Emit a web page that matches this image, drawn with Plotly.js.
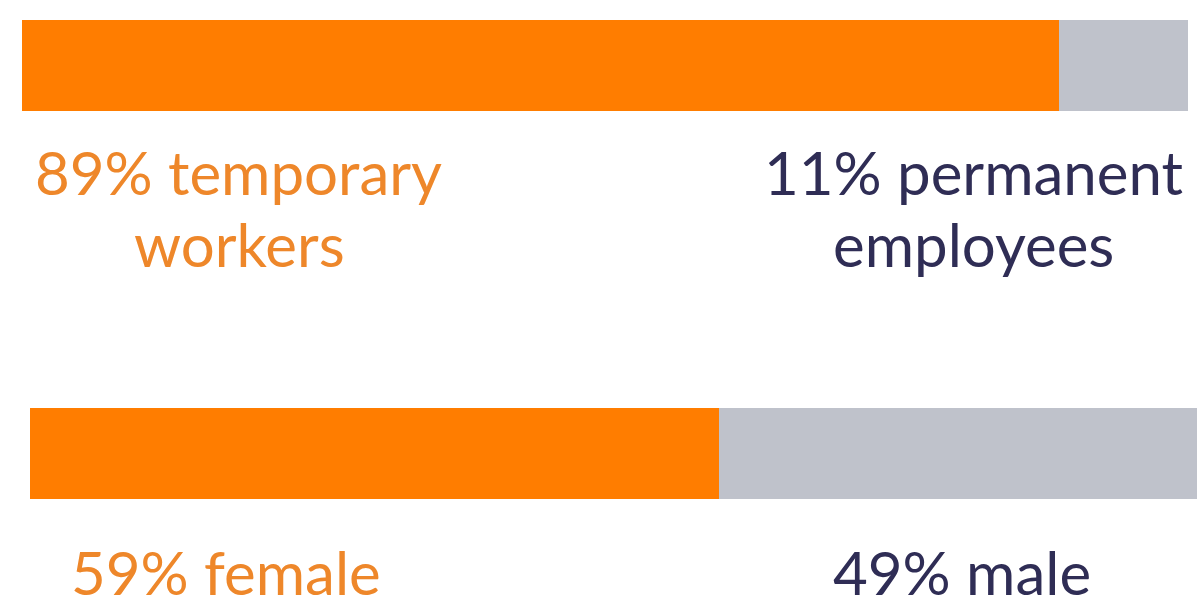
<!DOCTYPE html>
<html>
<head>
<meta charset="utf-8">
<script src="https://cdn.plot.ly/plotly-3.0.1.min.js"></script>
<style>html,body{margin:0;padding:0;background:#fff;}#chart{width:1197px;height:604px;}</style>
</head>
<body>
<div id="chart"></div>
<script>
// Data
const rows = ['contract', 'gender'];
const orangeValues = [89, 59];
const grayValues = [11, 41];
const orangeLabels = ['89% temporary', 'workers', '59% female'];
const grayLabels = ['11% permanent', 'employees', '49% male'];

const W = 1197, H = 604;
const px = v => v / W;
const py = v => 1 - v / H;

const ORANGE = '#FF7D00';
const GRAY = '#BFC2CB';
const TXT_OR = '#EE872A';
const TXT_DARK = '#2F2D55';

const traces = [];
rows.forEach((r, i) => {
  const xa = i === 0 ? 'x' : 'x2';
  const ya = i === 0 ? 'y' : 'y2';
  traces.push({type: 'bar', orientation: 'h', y: [r], x: [orangeValues[i]], xaxis: xa, yaxis: ya,
    marker: {color: ORANGE, line: {width: 0}}, width: 1, hoverinfo: 'skip'});
  traces.push({type: 'bar', orientation: 'h', y: [r], x: [grayValues[i]], xaxis: xa, yaxis: ya,
    marker: {color: GRAY, line: {width: 0}}, width: 1, hoverinfo: 'skip'});
});

const hidden = {showgrid: false, zeroline: false, showticklabels: false, showline: false, ticks: '', fixedrange: true};

const FS = 60;
const fontFam = 'Lato, "Open Sans", sans-serif';
function ann(text, xc, ymid, color) {
  return {text: text, xref: 'paper', yref: 'paper', x: px(xc), y: py(ymid), xanchor: 'center', yanchor: 'middle',
    showarrow: false, font: {family: fontFam, size: FS, color: color}};
}
const annotations = [
  ann(orangeLabels[0], 238, 172, TXT_OR),
  ann(orangeLabels[1], 239, 244, TXT_OR),
  ann(orangeLabels[2], 226, 572, TXT_OR),
  ann(grayLabels[0], 973, 172, TXT_DARK),
  ann(grayLabels[1], 973, 244, TXT_DARK),
  ann(grayLabels[2], 962, 572, TXT_DARK)
];

const layout = {
  width: W, height: H,
  margin: {l: 0, r: 0, t: 0, b: 0, pad: 0},
  paper_bgcolor: '#ffffff', plot_bgcolor: '#ffffff',
  barmode: 'stack', showlegend: false, bargap: 0,
  xaxis: Object.assign({domain: [px(22), px(1190)], range: [0, 100.2], anchor: 'y'}, hidden),
  yaxis: Object.assign({domain: [py(111), py(20)], range: [-0.5, 0.5], anchor: 'x', type: 'category'}, hidden),
  xaxis2: Object.assign({domain: [px(30), 1], range: [0, 100], anchor: 'y2'}, hidden),
  yaxis2: Object.assign({domain: [py(499), py(408)], range: [-0.5, 0.5], anchor: 'x2', type: 'category'}, hidden),
  annotations: annotations
};

Plotly.newPlot('chart', traces, layout, {displayModeBar: false, staticPlot: true});
</script>
</body>
</html>
